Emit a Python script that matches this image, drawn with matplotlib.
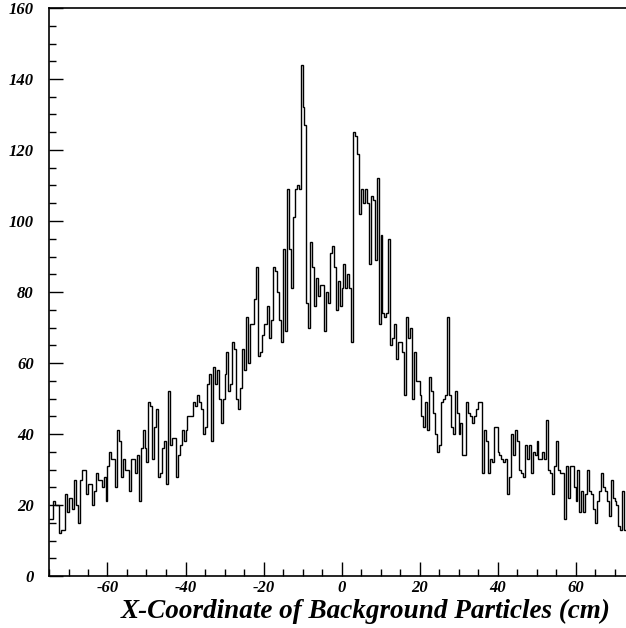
import numpy as np
import matplotlib
matplotlib.use("Agg")
import matplotlib.pyplot as plt
from matplotlib.ticker import MultipleLocator

# histogram contents, 0.5 cm bins starting at x = -75 cm
counts_left = [16, 16, 21, 20, 20, 12, 13, 13, 23, 18, 22, 22, 19, 27, 20, 15, 27, 30, 30, 23,
               26, 26, 20, 24, 29, 27, 27, 25, 28, 21, 31, 35, 33, 33, 25,
               41, 38, 28, 33, 30, 30, 24, 33, 33, 29, 34, 21, 36, 41, 36, 32, 49, 48, 33, 42,
               47, 28, 29, 36, 38, 26, 52, 37, 39, 39, 28, 34, 37, 41, 38, 41, 45, 45]
counts_rise = [45, 49, 48, 51, 49, 47, 40, 42, 54, 57, 38, 59, 54, 58, 50, 43, 50, 57, 63, 52,
               54, 66, 64, 50, 47, 53, 64, 58, 73, 60, 71, 71, 78, 87, 62, 63, 68, 71]
counts_core = [71, 76, 67, 72, 87, 86, 80, 72, 66, 92, 69, 109, 92, 81, 101, 109, 110, 109, 144, 132,
               127, 77, 70, 94, 87, 76, 84, 79, 82, 82, 69, 80, 77, 91, 93, 87, 75, 83,
               76, 81, 88, 81, 85, 81, 66, 125, 124, 119, 102, 109, 105, 109, 105, 88, 107, 106, 89, 112,
               71, 96, 74, 73, 74, 95, 65, 67, 71, 61, 66, 66, 63, 51, 73, 67, 70, 50, 63, 55]
counts_fall = [55, 51, 45, 42, 49, 41, 56, 52, 46, 40, 35, 37, 49, 50, 51, 73, 51, 42, 40, 52,
               46, 40, 43, 34, 34, 49, 46, 45, 43, 45, 47, 49, 49, 29, 41, 38, 29, 33, 32]
counts_right = [42, 42, 35, 34, 33, 32, 33, 23, 28, 40, 34, 41, 38, 30, 29, 28, 37, 33, 37, 29,
                35, 34, 38, 33, 33, 35, 33, 44, 30, 29, 23, 31, 38, 30, 29, 29, 16, 31, 22, 31, 31,
                25, 21, 30, 18, 24, 18, 23, 30, 24, 23, 19, 15, 21, 24, 29, 25, 24, 21, 17, 27,
                22, 21, 20, 14, 13, 24, 13]

counts = np.array(counts_left + counts_rise + counts_core + counts_fall + counts_right, dtype=float)
bin_width = 0.5
x_min, x_max = -75, 75
edges = x_min + bin_width * np.arange(len(counts) + 1)

plt.rcParams["axes.unicode_minus"] = False
font = dict(family="Liberation Serif", weight="bold", style="italic")

W, H = 626, 628
fig = plt.figure(figsize=(W / 100, H / 100), dpi=100)
# axis runs past the right edge of the picture, like the cropped original
ax = fig.add_axes([49 / W, 52 / H, 585 / W, 568 / H])

ax.stairs(counts, edges, color="black", linewidth=1.0, baseline=None)

ax.set_xlim(x_min, x_max)
ax.set_ylim(0, 160)
ax.xaxis.set_major_locator(MultipleLocator(20))
ax.xaxis.set_minor_locator(MultipleLocator(5))
ax.yaxis.set_major_locator(MultipleLocator(20))
ax.yaxis.set_minor_locator(MultipleLocator(5))
ax.tick_params(which="both", direction="in", top=False, right=False, width=1.0)
ax.tick_params(which="major", length=10)
ax.tick_params(which="minor", length=5)
ax.tick_params(axis="y", pad=11)
ax.tick_params(axis="x", pad=3)

ax.set_xticks([-60, -40, -20, 0, 20, 40, 60])
for lab in ax.get_xticklabels() + ax.get_yticklabels():
    lab.set_fontfamily("Liberation Serif")
    lab.set_fontweight("bold")
    lab.set_fontstyle("italic")
    lab.set_fontsize(12)

for side in ["left", "bottom", "top"]:
    ax.spines[side].set_linewidth(1.2)
ax.spines["right"].set_visible(False)

fig.text(366 / W, 1 - 618 / H, "X-Coordinate of Background Particles (cm)",
         ha="center", va="baseline", fontsize=19.5, **font)

fig.savefig("out.png", dpi=100)
